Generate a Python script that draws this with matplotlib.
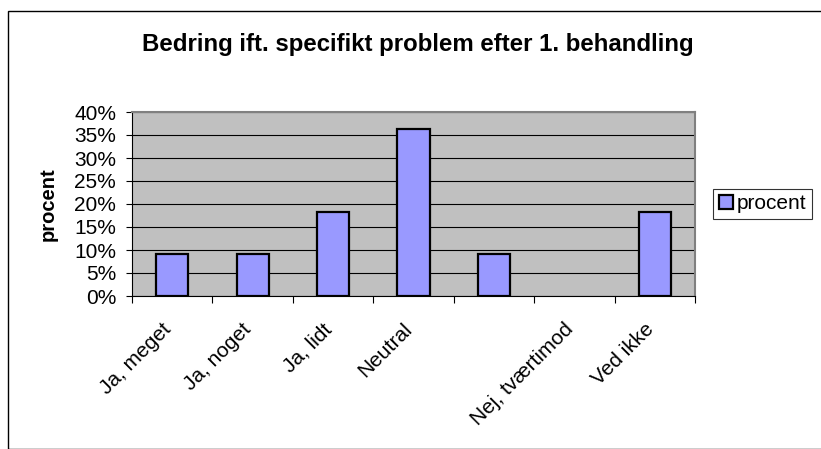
import matplotlib
matplotlib.use('Agg')
import matplotlib.pyplot as plt
import matplotlib.ticker as ticker
import matplotlib.transforms as mtransforms
from matplotlib.patches import Rectangle

# Answers and share of respondents (11 answers in total)
categories = ['Ja, meget', 'Ja, noget', 'Ja, lidt', 'Neutral', '', 'Nej, tværtimod', 'Ved ikke']
procent = [9.09, 9.09, 18.18, 36.36, 9.09, 0.0, 18.18]
yticks = [0, 5, 10, 15, 20, 25, 30, 35, 40]

plt.rcParams['font.family'] = ['Liberation Sans', 'DejaVu Sans']

fig = plt.figure(figsize=(8.21, 4.49), dpi=100)
W, H = 821, 449

# outer chart border (cut off on the right and at the bottom)
fig.patches.append(Rectangle((8 / W, 0), 1.2, 1 - 11 / H, transform=fig.transFigure,
                             fill=False, edgecolor='black', linewidth=1.0))

left, right, top, bottom = 132, 695, 112, 296
ax = fig.add_axes([left / W, 1 - bottom / H, (right - left) / W, (bottom - top) / H])
ax.set_facecolor('#c0c0c0')

x = list(range(len(categories)))
bars = ax.bar(x, procent, width=0.4, color='#9999ff', edgecolor='black', linewidth=1.6,
              label='procent', zorder=3)
for b in bars:
    if b.get_height() == 0:
        b.set_linewidth(0)

ax.set_xlim(-0.5, len(categories) - 0.5)
ax.set_ylim(0, 40)
ax.set_yticks(yticks)
ax.yaxis.set_major_formatter(ticker.FormatStrFormatter('%d%%'))
ax.grid(True, axis='y', color='black', linewidth=0.8, zorder=1)

ax.set_xticks(x)
ax.set_xticklabels(categories, rotation=45, ha='right', rotation_mode='anchor')
ax.set_xticks([i - 0.5 for i in range(len(categories) + 1)], minor=True)
ax.tick_params(axis='x', which='major', length=0, pad=17, labelsize=15)
ax.tick_params(axis='x', which='minor', length=5, width=0.8, direction='out')
ax.tick_params(axis='y', length=4.5, width=0.8, direction='out', pad=7, labelsize=15)
shift = mtransforms.ScaledTranslation(-11 / 100, 0, fig.dpi_scale_trans)
for lab in ax.get_xticklabels():
    lab.set_transform(lab.get_transform() + shift)

for side in ('top', 'right'):
    ax.spines[side].set_color('#808080')
    ax.spines[side].set_linewidth(1.5)
for side in ('left', 'bottom'):
    ax.spines[side].set_color('black')
    ax.spines[side].set_linewidth(0.8)

ax.set_ylabel('procent', fontsize=14.5, fontweight='bold')
ax.yaxis.set_label_coords((58 - left) / (right - left), 0.5)

fig.text(418 / W, 1 - 44 / H, 'Bedring ift. specifikt problem efter 1. behandling',
         ha='center', va='center', fontsize=17.3, fontweight='bold')

leg = ax.legend(loc='center left', bbox_to_anchor=(713 / W, 1 - 204 / H),
                bbox_transform=fig.transFigure, fontsize=15, frameon=True, fancybox=False,
                handlelength=0.7, handleheight=0.7, handletextpad=0.15,
                borderpad=0.28, borderaxespad=0)
leg.get_frame().set_edgecolor('black')
leg.get_frame().set_linewidth(0.8)

fig.savefig('out.png', dpi=100)
